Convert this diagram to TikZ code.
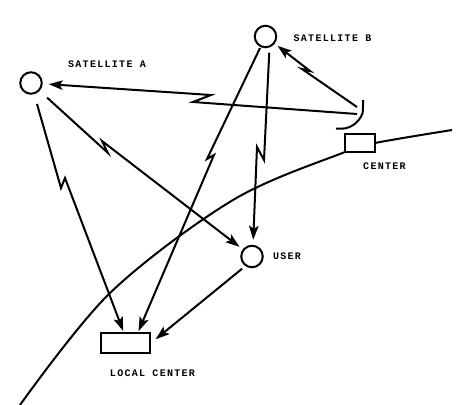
\documentclass[tikz,border=0pt]{standalone}
\usepackage{fontspec}
\setmainfont{Liberation Sans}
\newfontfamily\lblfont[LetterSpace=13]{Liberation Mono}
\usetikzlibrary{arrows.meta,calc}
\begin{document}
\begin{tikzpicture}[x=1pt,y=-1pt,line width=2pt,
  sat/.style={circle,draw,minimum size=21.5pt,inner sep=0pt},
  box/.style={draw,fill=white,inner sep=0pt},
  lbl/.style={font=\lblfont\bfseries\fontsize{10}{11}\selectfont,inner sep=0pt},
  arr/.style={-{Stealth[length=14pt,width=9.5pt,inset=3pt]},line join=miter}]
\useasboundingbox (0,0) rectangle (459,405);
% earth surface
\draw[line width=2pt] plot[smooth,tension=0.55] coordinates
  {(20,405) (110,293) (233,200) (345,152) (375,143) (452,130)};
% nodes
\node[box,minimum width=30pt,minimum height=18pt] (ctr) at (360,143) {};
\node[box,minimum width=49pt,minimum height=20pt] (loc) at (125.5,343) {};
\node[sat] (satA) at (31,83) {};
\node[sat] (satB) at (265.5,36.5) {};
\node[sat] (user) at (252,256.5) {};
% dish antenna
\draw plot[smooth] coordinates {(363,100) (362.6,113) (358.7,120) (353.3,125) (346,128.2) (336,128.7)};
\coordinate (dishA) at (357,114);
\coordinate (dishB) at (357,107);
% labels
\node[lbl] (lA) at (107,64) {SATELLITE A};
\node[lbl] (lB) at (332.5,38.5) {SATELLITE B};
\node[lbl] (lU) at (287,256) {USER};
\node[lbl] (lC) at (384.5,166) {CENTER};
\node[lbl] (lL) at (152.5,373) {LOCAL CENTER};
% links
\draw[arr,shorten >=6pt] (dishA) -- (193,102) -- (211,95) -- (satA);
\draw[arr,shorten >=3.5pt] (dishB) -- (302,69) -- (310,71) -- (satB);
\draw[arr,shorten <=10pt,shorten >=4pt] (satA) -- (108,153) -- (102,141) -- (user);
\draw[arr,shorten <=10pt,shorten >=1pt] (satA) -- (61,188) -- (65,178) -- (loc.100);
\draw[arr,shorten <=1pt,shorten >=1pt] (satB) -- (207,159) -- (214,155) -- (loc.41);
\draw[arr,shorten <=5pt,shorten >=5pt] (satB.-70) -- (264,160) -- (257,147) -- (user.85);
\draw[arr,shorten <=4pt,shorten >=6pt] (user.235) -- (loc.east);
\end{tikzpicture}
\end{document}
